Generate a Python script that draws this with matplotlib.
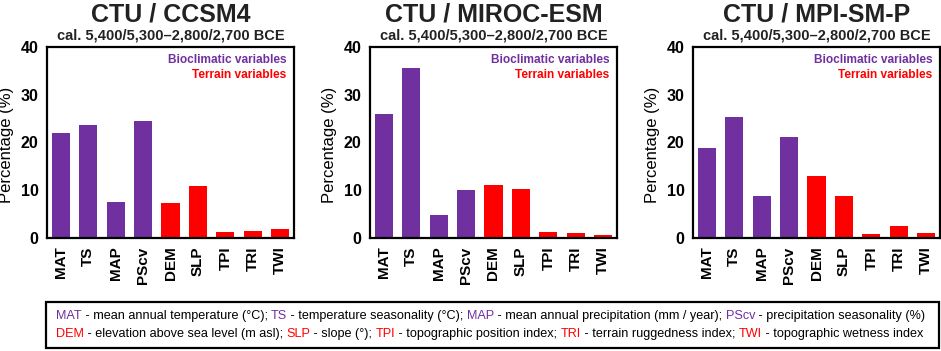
import numpy as np
import matplotlib.pyplot as plt
from matplotlib.patches import Rectangle

plt.rcParams['font.family'] = ['Liberation Sans', 'DejaVu Sans']

# Variables and groups
variables = ['MAT', 'TS', 'MAP', 'PScv', 'DEM', 'SLP', 'TPI', 'TRI', 'TWI']
groups = ['bio', 'bio', 'bio', 'bio', 'ter', 'ter', 'ter', 'ter', 'ter']

# Percentages per model
titles = ['CTU / CCSM4', 'CTU / MIROC-ESM', 'CTU / MPI-SM-P']
subtitle = 'cal. 5,400/5,300\u20132,800/2,700 BCE'
ccsm4 = [22.0, 23.6, 7.6, 24.5, 7.4, 10.9, 1.25, 1.4, 1.9]
miroc = [25.9, 35.7, 4.9, 10.0, 11.1, 10.2, 1.25, 1.0, 0.7]
mpi = [18.8, 25.4, 8.9, 21.1, 13.0, 8.9, 0.85, 2.5, 1.0]
values = [ccsm4, miroc, mpi]

purple = '#7030A0'
red = '#FF0000'
colors = [purple if g == 'bio' else red for g in groups]

W, H = 941, 351
fig = plt.figure(figsize=(W / 100, H / 100), dpi=100)

lefts = [47, 370, 693]
ax_w = 247
ax_top, ax_bot = 47, 238

for i in range(3):
    ax = fig.add_axes([lefts[i] / W, 1 - ax_bot / H, ax_w / W, (ax_bot - ax_top) / H])
    x = np.arange(len(variables))
    ax.bar(x, values[i], width=0.66, color=colors, zorder=2)
    ax.set_xlim(-0.5, len(variables) - 0.5)
    ax.set_ylim(0, 40)
    ax.set_yticks([0, 10, 20, 30, 40])
    ax.set_yticklabels(['0', '10', '20', '30', '40'], fontsize=11.5, fontweight='bold')
    ax.set_xticks(x)
    ax.set_xticklabels(variables, rotation=90, fontsize=11, fontweight='bold')
    ax.tick_params(length=0, pad=6)
    for s in ax.spines.values():
        s.set_linewidth(1.6)
    ax.set_ylabel('Percentage (%)', fontsize=12)
    ax.yaxis.set_label_coords((lefts[i] - 33) / W, 1 - 145 / H,
                              transform=fig.transFigure)
    ax.text(0.97, 0.965, 'Bioclimatic variables', color=purple, fontsize=8.6,
            fontweight='bold', ha='right', va='top', transform=ax.transAxes)
    ax.text(0.97, 0.885, 'Terrain variables', color=red, fontsize=8.6,
            fontweight='bold', ha='right', va='top', transform=ax.transAxes)
    cx = (lefts[i] + ax_w / 2) / W
    fig.text(cx, 1 - 14 / H, titles[i], fontsize=18, fontweight='bold',
             ha='center', va='center', color='#222222')
    fig.text(cx, 1 - 35 / H, subtitle, fontsize=10.5, fontweight='bold',
             ha='center', va='center', color='#222222')

# Legend box at the bottom
fig.patches.append(Rectangle((46 / W, 1 - 348 / H), (939 - 46) / W, 46 / H,
                             transform=fig.transFigure, fill=False,
                             edgecolor='black', linewidth=1.6))

line1 = [('MAT', purple), (' - mean annual temperature (\u00b0C); ', 'black'),
         ('TS', purple), (' - temperature seasonality (\u00b0C); ', 'black'),
         ('MAP', purple), (' - mean annual precipitation (mm / year); ', 'black'),
         ('PScv', purple), (' - precipitation seasonality (%)', 'black')]
line2 = [('DEM', red), (' - elevation above sea level (m asl); ', 'black'),
         ('SLP', red), (' - slope (\u00b0); ', 'black'),
         ('TPI', red), (' - topographic position index; ', 'black'),
         ('TRI', red), (' - terrain ruggedness index; ', 'black'),
         ('TWI', red), (' - topographic wetness index', 'black')]

fig.canvas.draw()
renderer = fig.canvas.get_renderer()
for line, y in [(line1, 316), (line2, 334)]:
    xpos = 56
    for txt, col in line:
        t = fig.text(xpos / W, 1 - y / H, txt, color=col, fontsize=9.1,
                     ha='left', va='center')
        bb = t.get_window_extent(renderer=renderer)
        xpos += bb.width

fig.savefig('out.png', dpi=100)
